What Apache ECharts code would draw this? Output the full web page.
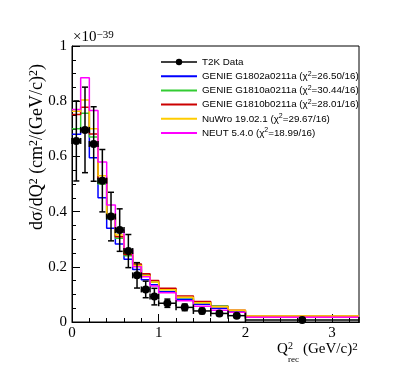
<!DOCTYPE html>
<html>
<head>
<meta charset="utf-8">
<script src="https://cdn.jsdelivr.net/npm/echarts@6/dist/echarts.min.js"></script>
<style>
  html, body { margin: 0; padding: 0; background: #fff; }
  #chart { width: 399px; height: 379px; }
</style>
</head>
<body>
<div id="chart"></div>
<script>
// bin edges, Q2_rec in (GeV/c)^2 (last bin runs past the frame)
const binEdges = [0, 0.1, 0.2, 0.3, 0.4, 0.5, 0.6, 0.7, 0.8, 0.9, 1.0, 1.2, 1.4, 1.6, 1.8, 2.0, 3.31];

// T2K data, in units of 1e-39 cm2/(GeV/c)2
const dataValues = [0.656, 0.696, 0.645, 0.512, 0.382, 0.333, 0.257, 0.169, 0.118, 0.092, 0.068, 0.053, 0.040, 0.031, 0.023, 0.007];
const dataErrors = [0.145, 0.155, 0.135, 0.113, 0.088, 0.077, 0.060, 0.046, 0.030, 0.030, 0.015, 0.012, 0.010, 0.008, 0.007, 0.002];

// generator predictions
const genieG1802a = [0.68, 0.70, 0.595, 0.45, 0.34, 0.283, 0.227, 0.19, 0.153, 0.135, 0.110, 0.082, 0.064, 0.050, 0.038, 0.018];
const genieG1810a = [0.70, 0.756, 0.67, 0.50, 0.375, 0.303, 0.240, 0.208, 0.170, 0.145, 0.118, 0.088, 0.070, 0.058, 0.041, 0.020];
const genieG1810b = [0.752, 0.778, 0.681, 0.52, 0.38, 0.309, 0.245, 0.210, 0.175, 0.150, 0.122, 0.094, 0.074, 0.056, 0.043, 0.021];
const nuwro = [0.764, 0.804, 0.70, 0.53, 0.39, 0.315, 0.249, 0.205, 0.168, 0.145, 0.117, 0.090, 0.070, 0.055, 0.043, 0.022];
const neut = [0.77, 0.885, 0.766, 0.58, 0.424, 0.333, 0.262, 0.200, 0.164, 0.130, 0.106, 0.077, 0.057, 0.043, 0.035, 0.017];

const modelNames = ["GENIE G1802a0211a", "GENIE G1810a0211a", "GENIE G1810b0211a", "NuWro 19.02.1", "NEUT 5.4.0"];
const modelChi2 = ["26.50/16", "30.44/16", "28.01/16", "29.67/16", "18.99/16"];
const modelValues = [genieG1802a, genieG1810a, genieG1810b, nuwro, neut];
const modelColors = ["#0000ff", "#33cc33", "#cc0000", "#ffcc00", "#ff00ff"];

const serif = "Liberation Serif";
const sans = "Liberation Sans";

const chart = echarts.init(document.getElementById("chart"));

// bin centres and half widths
const centers = [];
const halfWidths = [];
for (let i = 0; i < binEdges.length - 1; i++) {
  centers.push((binEdges[i] + binEdges[i + 1]) / 2);
  halfWidths.push((binEdges[i + 1] - binEdges[i]) / 2);
}

// minor tick positions on x (every 0.2)
const xMinor = [];
for (let v = 0; v <= 3.31; v += 0.2) xMinor.push(Math.round(v * 10) / 10);

const histSeries = modelNames.map((name, k) => {
  const vals = modelValues[k];
  return {
    name: name,
    type: "line",
    step: "end",
    symbol: "none",
    clip: true,
    lineStyle: { color: modelColors[k], width: 1.5 },
    itemStyle: { color: modelColors[k] },
    data: binEdges.map((e, i) => [e, vals[Math.min(i, vals.length - 1)]]),
    z: 2 + k,
  };
});

const supRich = { s: { fontFamily: serif, fontSize: 11, verticalAlign: "top", lineHeight: 11 } };

const option = {
  animation: false,
  backgroundColor: "#fff",
  grid: {
    left: 72,
    right: 40,
    top: 46,
    bottom: 57,
    show: true,
    borderColor: "#000",
    borderWidth: 1,
    backgroundColor: "transparent",
  },
  xAxis: [
    {
      type: "value",
      min: 0,
      max: 3.31,
      interval: 1,
      position: "bottom",
      axisLine: { lineStyle: { color: "#000", width: 1 } },
      axisTick: { inside: true, length: 8, lineStyle: { color: "#000" }, customValues: [0, 1, 2, 3] },
      axisLabel: {
        customValues: [0, 1, 2, 3],
        color: "#000",
        fontFamily: serif,
        fontSize: 15,
        margin: 4,
      },
      splitLine: { show: false },
    },
    {
      type: "value",
      min: 0,
      max: 3.31,
      position: "bottom",
      axisLine: { show: false },
      axisTick: { inside: true, length: 4, lineStyle: { color: "#000" }, customValues: xMinor },
      axisLabel: { show: false },
      splitLine: { show: false },
    },
  ],
  yAxis: {
    type: "value",
    min: 0,
    max: 1,
    interval: 0.2,
    axisLine: { show: true, lineStyle: { color: "#000", width: 1 } },
    axisTick: { inside: true, length: 8, lineStyle: { color: "#000" } },
    minorTick: { show: true, splitNumber: 4, length: 4, lineStyle: { color: "#000" } },
    axisLabel: { color: "#000", fontFamily: serif, fontSize: 15, margin: 5 },
    splitLine: { show: false },
  },
  legend: {
    orient: "vertical",
    left: 155,
    top: 51,
    itemWidth: 36,
    itemHeight: 8,
    itemGap: 2.2,
    selectedMode: false,
    data: [{ name: "T2K Data", lineStyle: { opacity: 1, width: 1.5, color: "#000" } }].concat(
      modelNames.map((n) => ({ name: n, itemStyle: { opacity: 0 } }))
    ),
    formatter: function (name) {
      const k = modelNames.indexOf(name);
      if (k < 0) return name;
      return name + " (\u03c7{s|2}=" + modelChi2[k] + ")";
    },
    textStyle: {
      fontFamily: sans,
      fontSize: 9.8,
      color: "#000",
      lineHeight: 12,
      rich: { s: { fontFamily: sans, fontSize: 7, verticalAlign: "top", lineHeight: 8 } },
    },
  },
  graphic: [
    {
      type: "text",
      x: 37,
      y: 147,
      rotation: Math.PI / 2,
      style: {
        text: "d\u03c3/dQ{s|2} (cm{s|2}/(GeV/c){s|2})",
        fontFamily: serif,
        fontSize: 18,
        fill: "#000",
        align: "center",
        verticalAlign: "middle",
        rich: { s: { fontFamily: serif, fontSize: 12, verticalAlign: "top", lineHeight: 12 } },
      },
    },
    {
      type: "text",
      x: 73,
      y: 45,
      style: {
        text: "\u00d710{s|\u221239}",
        fontFamily: serif,
        fontSize: 15,
        fill: "#000",
        align: "left",
        verticalAlign: "bottom",
        rich: supRich,
      },
    },
    { type: "text", x: 277, y: 357, style: { text: "Q", fontFamily: serif, fontSize: 15, fill: "#000", verticalAlign: "bottom" } },
    { type: "text", x: 288, y: 351, style: { text: "2", fontFamily: serif, fontSize: 10, fill: "#000", verticalAlign: "bottom" } },
    { type: "text", x: 288, y: 364, style: { text: "rec", fontFamily: serif, fontSize: 9, fill: "#000", verticalAlign: "bottom" } },
    {
      type: "text",
      x: 303,
      y: 357,
      style: {
        text: "(GeV/c){s|2}",
        fontFamily: serif,
        fontSize: 15,
        fill: "#000",
        verticalAlign: "bottom",
        rich: supRich,
      },
    },
  ],
  series: histSeries.concat([
    {
      name: "errors",
      type: "custom",
      z: 10,
      encode: { x: 0, y: 1 },
      data: centers.map((c, i) => [c, dataValues[i], halfWidths[i], dataErrors[i]]),
      renderItem: function (params, api) {
        const x = api.value(0);
        const y = api.value(1);
        const ex = api.value(2);
        const ey = api.value(3);
        const l = api.coord([x - ex, y]);
        const r = api.coord([x + ex, y]);
        const t = api.coord([x, y + ey]);
        const b = api.coord([x, y - ey]);
        const cap = 3;
        const st = { stroke: "#000", lineWidth: 1.5 };
        const seg = (x1, y1, x2, y2) => ({ type: "line", shape: { x1, y1, x2, y2 }, style: st });
        return {
          type: "group",
          children: [
            seg(l[0], l[1], r[0], r[1]),
            seg(t[0], t[1], b[0], b[1]),
            seg(t[0] - cap, t[1], t[0] + cap, t[1]),
            seg(b[0] - cap, b[1], b[0] + cap, b[1]),
            seg(l[0], l[1] - cap, l[0], l[1] + cap),
            seg(r[0], r[1] - cap, r[0], r[1] + cap),
          ],
        };
      },
    },
    {
      name: "T2K Data",
      type: "line",
      z: 11,
      symbol: "circle",
      symbolSize: 8,
      lineStyle: { opacity: 0 },
      itemStyle: { color: "#000" },
      data: centers.map((c, i) => [c, dataValues[i]]),
    },
  ]),
};

chart.setOption(option);
</script>
</body>
</html>
